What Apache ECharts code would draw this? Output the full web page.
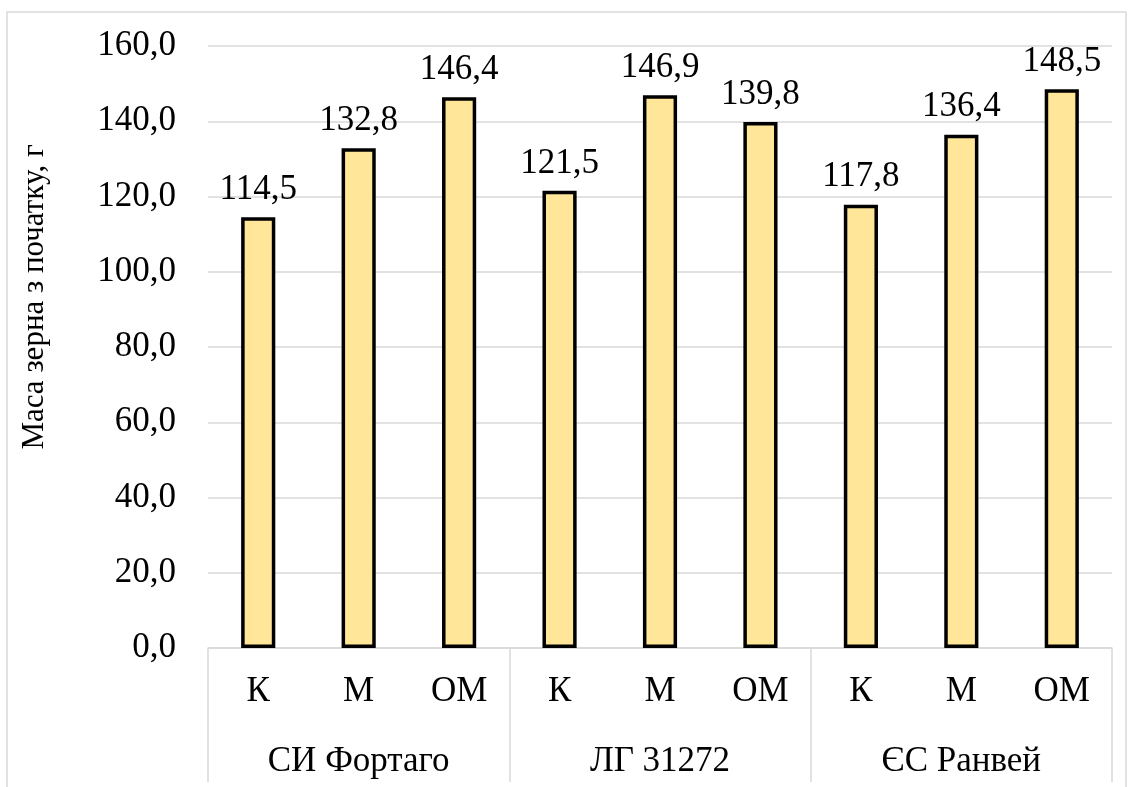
<!DOCTYPE html>
<html>
<head>
<meta charset="utf-8">
<script src="https://cdn.jsdelivr.net/npm/echarts@6/dist/echarts.min.js"></script>
<style>html,body{margin:0;padding:0;background:#fff}#c{width:1133px;height:787px}</style>
</head>
<body>
<div id="c"></div>
<script>
const treatments = ['К','М','ОМ','К','М','ОМ','К','М','ОМ'];
const varieties = ['СИ Фортаго','ЛГ 31272','ЄС Ранвей'];
const values = [114.5, 132.8, 146.4, 121.5, 146.9, 139.8, 117.8, 136.4, 148.5];
const yTitle = 'Маса зерна з початку, г';

const font = "'Times New Roman','Liberation Serif',serif";
const fmt = v => Number(v).toFixed(1).replace('.', ',');
const chart = echarts.init(document.getElementById('c'));
chart.setOption({
  animation: false,
  graphic: [{type:'rect', shape:{x:7,y:12,width:1119,height:800}, style:{fill:'none', stroke:'#d9d9d9', lineWidth:1.5}, silent:true}],
  grid: {left:208, right:21, top:46, bottom:139},
  xAxis: [
    {type:'category', data: treatments, position:'bottom',
     axisLine:{lineStyle:{color:'#d9d9d9', width:1.5}}, axisTick:{show:false},
     axisLabel:{color:'#000', fontFamily:font, fontSize:35, margin:26}},
    {type:'category', data: varieties, position:'bottom', offset:0,
     axisLine:{show:false},
     axisTick:{show:true, length:134, lineStyle:{color:'#d9d9d9', width:1.5}},
     axisLabel:{color:'#000', fontFamily:font, fontSize:35, margin:96}}
  ],
  yAxis: {type:'value', min:0, max:160, interval:20,
    axisLine:{show:false}, axisTick:{show:false},
    splitLine:{lineStyle:{color:'#d9d9d9', width:1.5}},
    axisLabel:{color:'#000', fontFamily:font, fontSize:35, margin:32, formatter: fmt},
    name: yTitle, nameLocation:'middle', nameGap:158, nameRotate:90,
    nameTextStyle:{color:'#000', fontFamily:font, fontSize:31, padding:[0,0,0,100]}},
  series: [{type:'bar', data: values, xAxisIndex:0, barWidth:'34%',
    itemStyle:{color:'#FFE699', borderColor:'#000', borderWidth:3.5},
    label:{show:true, position:'top', distance:10, color:'#000', fontFamily:font, fontSize:35, formatter: p => fmt(p.value)}}]
});
</script>
</body>
</html>
